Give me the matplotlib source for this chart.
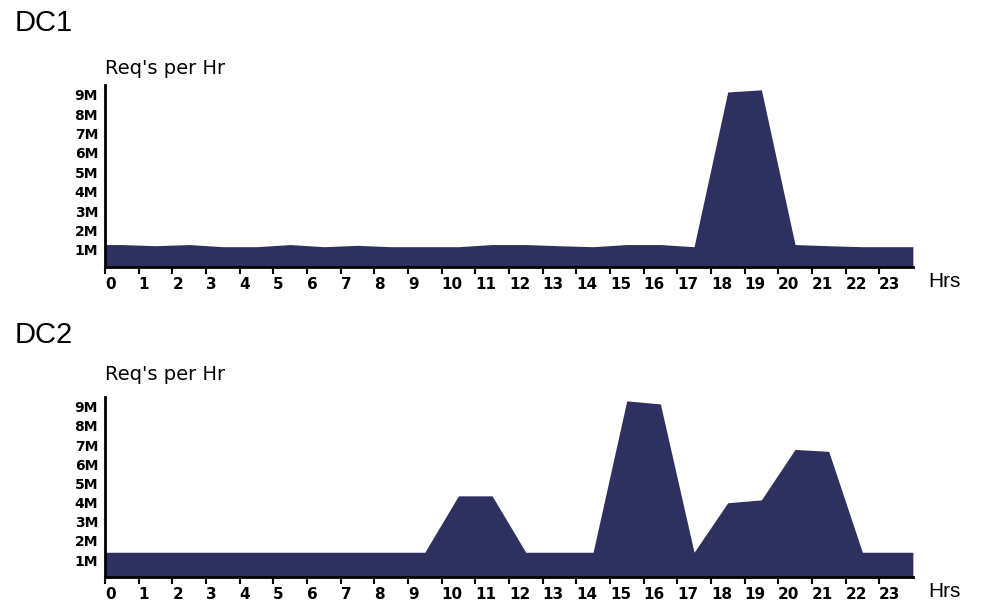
import numpy as np
import matplotlib
matplotlib.use("Agg")
import matplotlib.pyplot as plt

# hours of the day, one value per hour (millions of requests)
hours = list(range(24))
dc1_reqs = [1.28, 1.22, 1.28, 1.17, 1.17, 1.28, 1.17, 1.24, 1.17, 1.17, 1.17, 1.28,
            1.28, 1.22, 1.17, 1.28, 1.28, 1.17, 9.14, 9.25, 1.28, 1.22, 1.17, 1.17]
dc2_reqs = [1.41, 1.41, 1.41, 1.41, 1.41, 1.41, 1.41, 1.41, 1.41, 1.41, 4.35, 4.35,
            1.41, 1.41, 1.41, 9.30, 9.14, 1.41, 3.99, 4.14, 6.77, 6.67, 1.41, 1.41]
y_ticks = [1, 2, 3, 4, 5, 6, 7, 8, 9]
y_labels = ["1M", "2M", "3M", "4M", "5M", "6M", "7M", "8M", "9M"]

fill_color = "#2e3060"
ymin, ymax = 0.12, 9.5


def draw_panel(ax, values):
    # each value sits at the middle of its hour, flat out to the edges
    xs = np.concatenate([[0], np.array(hours) + 0.5, [len(hours)]])
    ys = np.concatenate([[values[0]], values, [values[-1]]])
    ax.fill_between(xs, ys, ymin, color=fill_color, linewidth=0)

    ax.set_xlim(0, 24)
    ax.set_ylim(ymin, ymax)
    ax.set_xticks(hours)
    ax.set_xticklabels([str(h) for h in hours], fontsize=11, fontweight="bold",
                       ha="left")
    ax.set_yticks(y_ticks)
    ax.set_yticklabels(y_labels, fontsize=10, fontweight="bold")
    ax.tick_params(axis="x", direction="out", length=5, width=1.5, pad=2)
    ax.tick_params(axis="y", length=0, pad=5)

    for s in ["top", "right"]:
        ax.spines[s].set_visible(False)
    for s in ["left", "bottom"]:
        ax.spines[s].set_linewidth(2)
        ax.spines[s].set_color("black")


fig = plt.figure(figsize=(9.84, 6.07), dpi=100)

ax1 = fig.add_axes([0.1067, 0.560, 0.821, 0.300])
draw_panel(ax1, dc1_reqs)

ax2 = fig.add_axes([0.1067, 0.0494, 0.821, 0.2965])
draw_panel(ax2, dc2_reqs)

# titles and axis names
fig.text(0.0152, 0.949, "DC1", fontsize=21, va="baseline", family="Liberation Sans")
fig.text(0.0152, 0.435, "DC2", fontsize=21, va="baseline", family="Liberation Sans")
fig.text(0.1067, 0.878, "Req's per Hr", fontsize=14, va="baseline")
fig.text(0.1067, 0.374, "Req's per Hr", fontsize=14, va="baseline")
fig.text(0.943, 0.537, "Hrs", fontsize=15, va="center", family="Liberation Sans")
fig.text(0.943, 0.026, "Hrs", fontsize=15, va="center", family="Liberation Sans")

plt.savefig("out.png", dpi=100)
